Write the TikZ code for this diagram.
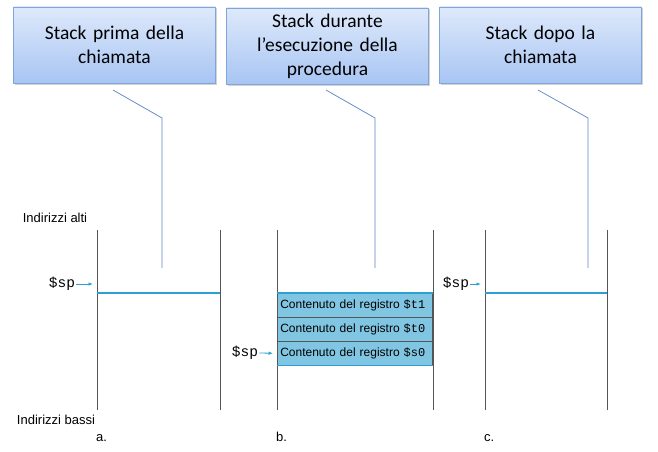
\documentclass[tikz,border=0pt]{standalone}
\usepackage{fontspec}
\setmainfont{Liberation Sans}
\setmonofont{Liberation Mono}
\newfontfamily\calloutfont{Carlito}
\usetikzlibrary{arrows.meta,shadows}
\definecolor{boxtop}{HTML}{DEE9FB}
\definecolor{boxbottom}{HTML}{A8C5F3}
\definecolor{boxedge}{HTML}{7FA6DA}
\definecolor{calloutline}{HTML}{5A84C4}
\definecolor{spblue}{HTML}{2E9FD2}
\definecolor{regfill}{HTML}{80C6E2}
\definecolor{wallgrey}{HTML}{555555}
\tikzset{
  callbox/.style={draw=boxedge, top color=boxtop, bottom color=boxbottom,
    minimum width=199pt, minimum height=76pt, text width=195pt, align=center,
    font=\calloutfont\fontsize{19.5}{24}\selectfont,
    drop shadow={shadow xshift=1.5pt, shadow yshift=-1.5pt, opacity=0.35}},
  callout/.style={draw=calloutline, line width=0.7pt},
  wall/.style={draw=wallgrey, line width=0.8pt},
  spline/.style={draw=spblue, line width=1.6pt},
  regbox/.style={draw=wallgrey, fill=regfill, line width=0.6pt,
    minimum width=155pt, minimum height=23.5pt, text width=149pt, align=left,
    inner xsep=3pt, inner ysep=2pt, font=\fontsize{12}{13}\selectfont},
  splabel/.style={font=\ttfamily\fontsize{14.5}{15}\selectfont, inner sep=1pt},
  sparrow/.style={draw=spblue, line width=0.8pt, -{Latex[length=4.5pt,width=3.5pt]}},
  addrlabel/.style={font=\fontsize{13}{15}\selectfont, inner sep=1pt}
}
\newcommand{\regmono}[1]{{\ttfamily\fontsize{12}{13}\selectfont\$#1}}
\begin{document}
\begin{tikzpicture}[x=1pt,y=-1pt]
\useasboundingbox (0,0) rectangle (658,452);

%%the three callout boxes
\node[callbox] (boxa) at (114.5,45) {Stack prima della\\chiamata};
\node[callbox] (boxb) at (327.5,46) {Stack durante\\l’esecuzione della\\procedura};
\node[callbox] (boxc) at (540.5,45) {Stack dopo la\\chiamata};

%%callout lines
\coordinate (froma) at (113,90);  \coordinate (benda) at (162,118);  \coordinate (tipa) at (162,268);
\coordinate (fromb) at (326,90);  \coordinate (bendb) at (375,118);  \coordinate (tipb) at (375,268);
\coordinate (fromc) at (538,90);  \coordinate (bendc) at (588,118);  \coordinate (tipc) at (588,268);
\draw[callout] (froma) -- (benda) -- (tipa);
\draw[callout] (fromb) -- (bendb) -- (tipb);
\draw[callout] (fromc) -- (bendc) -- (tipc);

%%draw the stack walls
\foreach \l/\r in {97/220, 277/433, 485/607}{
  \draw[wall] (\l,230) -- (\l,410);
  \draw[wall] (\r,230) -- (\r,410);
}

%%stack a
\draw[spline] (97,293) -- (220,293);
\node[splabel] (spa) at (62,284) {\$sp};
\draw[sparrow] (spa.east) -- (93,284);

%%stack b, the saved registers
\node[regbox, anchor=north west] (regt1) at (277,293) {Contenuto del registro \regmono{t1}};
\node[regbox, anchor=north west] (regt0) at (regt1.south west) {Contenuto del registro \regmono{t0}};
\node[regbox, anchor=north west] (regs0) at (regt0.south west) {Contenuto del registro \regmono{s0}};
\draw[spline] (regt1.north west) -- (regt1.north east);
\draw[spline] (regs0.south west) -- (regs0.south east);
\node[splabel] (spb) at (245,353) {\$sp};
\draw[sparrow] (spb.east) -- ([xshift=-4pt]regs0.west);

%%stack c
\draw[spline] (485,293) -- (607,293);
\node[splabel] (spc) at (456,284) {\$sp};
\draw[sparrow] (spc.east) -- (481,284);

%%address labels
\node[addrlabel] (alti) at (55,218) {Indirizzi alti};
\node[addrlabel] (bassi) at (56,420) {Indirizzi bassi};
\node[addrlabel, anchor=base west] (laba) at (95,441) {a.};
\node[addrlabel, anchor=base west] (labb) at (275,441) {b.};
\node[addrlabel, anchor=base west] (labc) at (483,441) {c.};
\end{tikzpicture}
\end{document}
